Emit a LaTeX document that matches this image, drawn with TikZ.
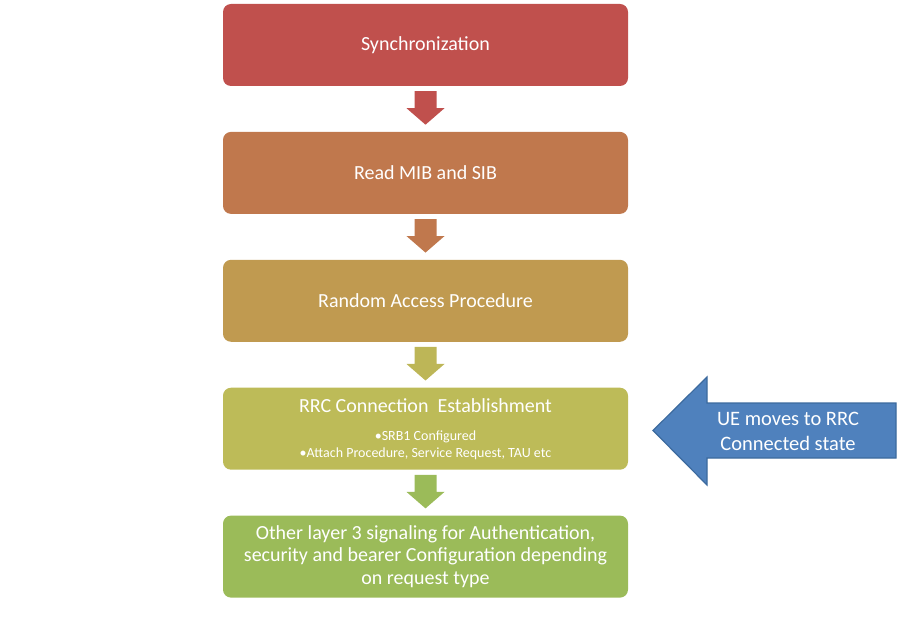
\documentclass[tikz,border=0pt]{standalone}
\usepackage{fontspec}
\setmainfont{Carlito}
\usetikzlibrary{positioning,calc}

\definecolor{stepred}{HTML}{C0504D}
\definecolor{steporange}{HTML}{C0784D}
\definecolor{stepgold}{HTML}{C09A50}
\definecolor{stepolive}{HTML}{BDBB58}
\definecolor{stepgreen}{HTML}{9BBB59}
\definecolor{ueblue}{HTML}{4F81BD}
\definecolor{ueborder}{HTML}{3C6A9E}

\tikzset{
  stepbox/.style={rectangle, rounded corners=8pt, minimum width=405pt,
    minimum height=82pt, text=white, font=\fontsize{20}{22.5}\selectfont,
    align=center, inner sep=2pt},
}

\newcommand{\bulletfont}{\fontsize{14}{17}\selectfont}

% block arrow between two boxes: from, to, colour
\newcommand{\downblock}[3]{
  \fill[#3] ($(#1.south)+(-11pt,-5pt)$) -- ($(#1.south)+(11pt,-5pt)$)
    -- ($(#1.south)+(11pt,-22pt)$) -- ($(#1.south)+(19pt,-22pt)$)
    -- ($(#2.north)+(0,7pt)$) -- ($(#1.south)+(-19pt,-22pt)$)
    -- ($(#1.south)+(-11pt,-22pt)$) -- cycle;
}

\begin{document}
\begin{tikzpicture}[x=1pt,y=-1pt]
  \useasboundingbox (0,0) rectangle (900,620);

  \node[stepbox, fill=stepred] (sync) at (425.5,45) {Synchronization};
  \node[stepbox, fill=steporange, below=45.5pt of sync] (mib) {Read MIB and SIB};
  \node[stepbox, fill=stepgold, below=45.5pt of mib] (rach) {Random Access Procedure};
  \node[stepbox, fill=stepolive, below=45.5pt of rach] (rrc)
    {RRC Connection~ Establishment\\[5.5pt]
     \bulletfont •SRB1 Configured\\[-5.5pt]
     \bulletfont •Attach Procedure, Service Request, TAU etc};
  \node[stepbox, fill=stepgreen, below=45.5pt of rrc] (auth)
    {Other layer 3 signaling for Authentication,\\
     security and bearer Configuration depending\\
     on request type};

  \downblock{sync}{mib}{stepred}
  \downblock{mib}{rach}{steporange}
  \downblock{rach}{rrc}{stepolive!85!stepgold}
  \downblock{rrc}{auth}{stepgreen}

  % state change arrow
  \coordinate (uetip) at (653,430.5);
  \filldraw[fill=ueblue, draw=ueborder, line width=1.2pt]
    (uetip) -- (707,377) -- (707,403) -- (896,403) -- (896,458)
    -- (707,458) -- (707,485) -- cycle;
  \node[text=white, align=center, font=\fontsize{20.5}{25}\selectfont]
    (ue) at (788,431) {UE moves to RRC\\Connected state};
\end{tikzpicture}
\end{document}
